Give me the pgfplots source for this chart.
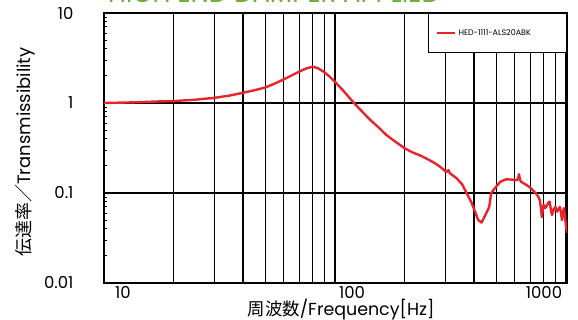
\documentclass[border=0pt]{standalone}
\usepackage{fontspec}
\setmainfont{Poppins}
\newfontfamily\cjk{Noto Sans CJK JP}
\usepackage{pgfplots}
\pgfplotsset{compat=1.18}
\definecolor{curvered}{HTML}{E8232B}
\definecolor{titlegreen}{HTML}{6DAF35}
\begin{document}
\begin{tikzpicture}
\begin{axis}[
  at={(0,0)}, anchor=south west,
  scale only axis, width=463bp, height=270bp,
  xmode=log, ymode=log,
  xmin=10, xmax=1010, ymin=0.01, ymax=10,
  xtick={10,100,1000}, xticklabels={},
  minor xtick={20,30,40,50,60,70,80,90,200,300,400,500,600,700,800,900},
  ytick={0.01,0.1,1,10},
  yticklabels={0.01,0.1,1,10},
  /pgf/number format/assume math mode=true,
  yticklabel style={font=\fontsize{16.5}{16.5}\selectfont, xshift=-27bp},
  ytick pos=left,
  major tick length=0bp, minor tick length=3.5bp,
  xtick style={draw=none},
  ytick style={line width=0.9bp, black},
  xmajorgrids=true, xminorgrids=true, ymajorgrids=true,
  major grid style={black, line width=1.3bp},
  minor grid style={black, line width=1.3bp},
  axis line style={line width=1.8bp, black},
  legend style={at={(1,1)}, anchor=north east, draw=black, line width=1bp,
    font=\fontsize{8}{9}\selectfont, inner xsep=8bp, inner ysep=14bp, fill=white},
  legend cell align=left,
  legend image code/.code={\draw[#1, line width=2.5bp] (0bp,0bp) -- (18bp,0bp);},
  clip mode=individual,
]
\addplot[curvered, line width=2.4bp, line join=round] coordinates {
(10,1.00) (12,1.01) (14,1.02) (17,1.04) (20,1.05) (25,1.09) (30,1.14)
(35,1.21) (40,1.30) (45,1.39) (50,1.49) (55,1.65) (60,1.83) (65,2.03)
(70,2.23) (75,2.42) (80,2.53) (84,2.45) (90,2.20) (95,1.95) (100,1.72)
(110,1.32) (120,1.02) (130,0.82) (142,0.65) (155,0.53) (167,0.44)
(183,0.37) (200,0.315) (215,0.285) (233,0.262) (250,0.24) (271,0.214)
(285,0.196) (300,0.175) (305,0.172) (310,0.18) (314,0.166) (336,0.146)
(355,0.125) (372,0.099) (390,0.078) (404,0.062) (417,0.050) (431,0.047)
(443,0.054) (455,0.062) (465,0.070) (474,0.099) (492,0.113) (519,0.133)
(550,0.142) (580,0.141) (612,0.139) (620,0.145) (626,0.162) (632,0.14)
(640,0.133) (670,0.124) (697,0.116) (725,0.105) (751,0.095) (770,0.084)
(778,0.07) (786,0.054) (793,0.065) (800,0.074) (812,0.068) (825,0.072)
(838,0.078) (850,0.080) (860,0.065) (870,0.057) (885,0.066) (900,0.070)
(915,0.062) (928,0.066) (940,0.070) (950,0.062) (960,0.050) (970,0.062)
(980,0.068) (990,0.055) (1000,0.042) (1010,0.036)
};
\addlegendentry{\makebox[98bp][l]{HED-1111-ALS20ABK}}
\node[font=\fontsize{16.5}{16.5}\selectfont] at (axis cs:10,0.01) [xshift=19bp, yshift=-9.5bp] {10};
\node[font=\fontsize{16.5}{16.5}\selectfont] at (axis cs:100,0.01) [xshift=17bp, yshift=-9.5bp] {100};
\node[font=\fontsize{16.5}{16.5}\selectfont] at (axis cs:1000,0.01) [xshift=-22bp, yshift=-9.5bp] {1000};
\end{axis}
\node[rotate=90, font=\fontsize{18}{18}\selectfont] at (-79bp,131bp) {{\cjk 伝達率／}Transmissibility};
\node[font=\fontsize{17.5}{17.5}\selectfont] at (237bp,-27bp) {{\cjk 周波数}/Frequency[Hz]};
\node[font=\fontsize{26}{26}\selectfont, text=titlegreen] at (170bp,290bp) {HIGH END DAMPER APPLIED};
\pgfresetboundingbox
\path[use as bounding box] (-104bp,-37bp) rectangle (474bp,283bp);
\end{tikzpicture}
\end{document}
